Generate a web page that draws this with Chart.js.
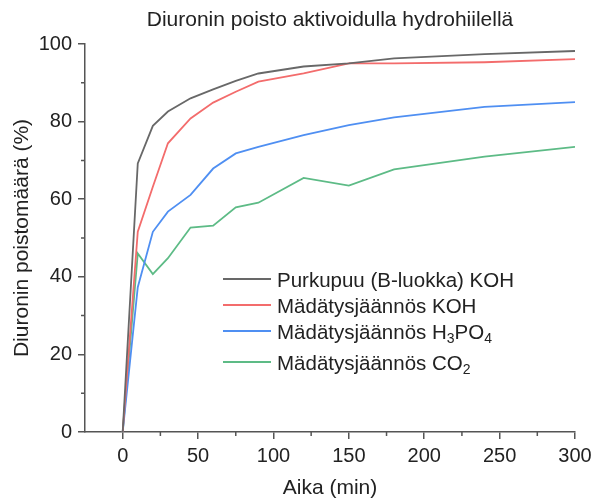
<!DOCTYPE html>
<html>
<head>
<meta charset="utf-8">
<script src="https://cdn.jsdelivr.net/npm/chart.js@4/dist/chart.umd.min.js"></script>
<style>
  html, body { margin: 0; padding: 0; background: #fff; }
  #chart { display: block; }
</style>
</head>
<body>
<canvas id="chart" width="594" height="501"></canvas>
<script>
// --- Data ---
const chartTitle = 'Diuronin poisto aktivoidulla hydrohiilellä';
const xTitle = 'Aika (min)';
const yTitle = 'Diuronin poistomäärä (%)';

const times = [0, 10, 20, 30, 45, 60, 75, 90, 120, 150, 180, 240, 300];
const purkupuuKOH = [0, 69.2, 78.9, 82.6, 86.0, 88.3, 90.5, 92.4, 94.2, 95.0, 96.3, 97.4, 98.2];
const madatysKOH = [0, 51.6, 63.2, 74.4, 80.8, 84.9, 87.7, 90.3, 92.4, 95.0, 95.0, 95.3, 96.1];
const madatysH3PO4 = [0, 37.3, 51.6, 56.8, 61.1, 67.9, 71.8, 73.5, 76.5, 79.1, 81.1, 83.8, 85.0];
const madatysCO2 = [0, 46.0, 40.7, 44.8, 52.7, 53.2, 57.9, 59.1, 65.5, 63.5, 67.7, 71.0, 73.5];

// "_3" marks a subscript digit in the legend
const seriesLabels = ['Purkupuu (B-luokka) KOH', 'Mädätysjäännös KOH', 'Mädätysjäännös H_3PO_4', 'Mädätysjäännös CO_2'];
const seriesColors = ['#686868', '#f36c6c', '#4f8ff2', '#5dbb86'];

const xTicks = [0, 50, 100, 150, 200, 250, 300];
const xMinorTicks = [25, 75, 125, 175, 225, 275];
const yTicks = [0, 20, 40, 60, 80, 100];
const yMinorTicks = [10, 30, 50, 70, 90];

const FONT = "'Liberation Sans', Arial, Helvetica, sans-serif";
const AXIS_COLOR = '#555';
const TEXT_COLOR = '#222';

const seriesValues = [purkupuuKOH, madatysKOH, madatysH3PO4, madatysCO2];

function plainLabel(s) {
    const subs = { '2': '₂', '3': '₃', '4': '₄' };
    return s.replace(/_(\d)/g, (m, d) => subs[d]);
}

// --- Extras: title, minor ticks, legend with subscripts ---
const extrasPlugin = {
    id: 'extras',
    afterDraw(chart) {
        const ctx = chart.ctx;
        const area = chart.chartArea;
        const xs = chart.scales.x;
        const ys = chart.scales.y;
        ctx.save();

        // title centred over the plot
        ctx.fillStyle = TEXT_COLOR;
        ctx.font = '21px ' + FONT;
        ctx.textAlign = 'center';
        ctx.textBaseline = 'middle';
        ctx.fillText(chartTitle, (area.left + area.right) / 2, 20);

        // minor ticks
        ctx.strokeStyle = AXIS_COLOR;
        ctx.lineWidth = 1.5;
        ctx.beginPath();
        xMinorTicks.forEach(v => {
            const px = xs.getPixelForValue(v);
            ctx.moveTo(px, area.bottom);
            ctx.lineTo(px, area.bottom + 4);
        });
        yMinorTicks.forEach(v => {
            const py = ys.getPixelForValue(v);
            ctx.moveTo(area.left, py);
            ctx.lineTo(area.left - 4, py);
        });
        ctx.stroke();

        // legend
        const lx0 = 223, lx1 = 271, tx = 277;
        const rowsY = [279, 305, 331, 362];
        ctx.textAlign = 'left';
        ctx.textBaseline = 'alphabetic';
        seriesLabels.forEach((label, i) => {
            const y = rowsY[i];
            ctx.strokeStyle = seriesColors[i];
            ctx.lineWidth = 2;
            ctx.beginPath();
            ctx.moveTo(lx0, y);
            ctx.lineTo(lx1, y);
            ctx.stroke();

            let x = tx;
            const parts = label.split(/(_\d)/);
            parts.forEach(p => {
                if (!p) return;
                if (p[0] === '_') {
                    ctx.font = '14px ' + FONT;
                    ctx.fillText(p[1], x, y + 12);
                    x += ctx.measureText(p[1]).width;
                } else {
                    ctx.font = '20.5px ' + FONT;
                    ctx.fillText(p, x, y + 7.5);
                    x += ctx.measureText(p).width;
                }
            });
        });
        ctx.restore();
    }
};

const datasets = seriesLabels.map((label, i) => ({
    label: plainLabel(label),
    data: times.map((t, j) => ({ x: t, y: seriesValues[i][j] })),
    borderColor: seriesColors[i],
    backgroundColor: seriesColors[i],
    borderWidth: 1.8,
    pointRadius: 0,
    tension: 0,
    fill: false
}));

new Chart(document.getElementById('chart'), {
    type: 'line',
    data: { datasets: datasets },
    options: {
        responsive: false,
        animation: false,
        layout: { padding: { top: 44, right: 19, left: 0, bottom: 0 } },
        plugins: {
            legend: { display: false },
            title: { display: false },
            tooltip: { enabled: false }
        },
        scales: {
            x: {
                type: 'linear',
                min: -25,
                max: 300,
                afterBuildTicks: (scale) => { scale.ticks = xTicks.map(v => ({ value: v })); },
                afterFit: (scale) => {
                    scale.height = 69;
                    scale.paddingLeft = 0;
                    scale.paddingRight = 0;
                },
                grid: { drawOnChartArea: false, drawTicks: true, tickLength: 7, color: AXIS_COLOR, lineWidth: 1.5 },
                border: { display: true, color: AXIS_COLOR, width: 1.5 },
                ticks: { color: TEXT_COLOR, font: { family: FONT, size: 20 }, padding: 5, maxRotation: 0 },
                title: { display: true, text: xTitle, color: TEXT_COLOR, font: { family: FONT, size: 21 }, padding: { top: 0, bottom: 0 } }
            },
            y: {
                min: 0,
                max: 100,
                afterBuildTicks: (scale) => { scale.ticks = yTicks.map(v => ({ value: v })); },
                afterFit: (scale) => { scale.width = 85; },
                grid: { drawOnChartArea: false, drawTicks: true, tickLength: 7, color: AXIS_COLOR, lineWidth: 1.5 },
                border: { display: true, color: AXIS_COLOR, width: 1.5 },
                ticks: { color: TEXT_COLOR, font: { family: FONT, size: 20 }, padding: 6 },
                title: { display: true, text: yTitle, color: TEXT_COLOR, font: { family: FONT, size: 21 }, padding: { top: 10, bottom: 0 } }
            }
        }
    },
    plugins: [extrasPlugin]
});
</script>
</body>
</html>
